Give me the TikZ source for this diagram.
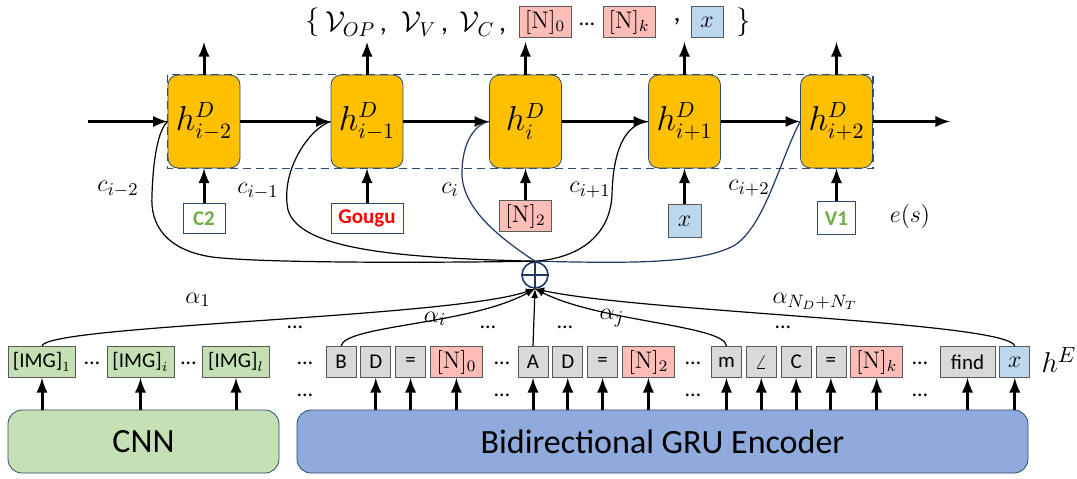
\documentclass[tikz,border=0pt]{standalone}
\usepackage[no-math]{fontspec}
\setmainfont{Carlito}
\usepackage{amsmath}
\usetikzlibrary{arrows, positioning, math}

\definecolor{decorange}{HTML}{FFC000}
\definecolor{boxline}{HTML}{2F4B6E}
\definecolor{cnngreen}{HTML}{C5E0B4}
\definecolor{encblue}{HTML}{8FAADC}
\definecolor{tokgray}{HTML}{D9D9D9}
\definecolor{numpink}{HTML}{FFBDB8}
\definecolor{varblue}{HTML}{BDD7EE}
\definecolor{opgreen}{HTML}{70AD47}
\definecolor{curveblue}{HTML}{1F3864}

\tikzset{
  dec/.style={draw=boxline, fill=decorange, rounded corners=5pt, minimum width=36pt, minimum height=46.5pt, inner sep=0pt, font=\fontsize{16}{18}\selectfont},
  tok/.style={draw=black!65, fill=tokgray, minimum width=15pt, minimum height=15.5pt, inner sep=1pt, font=\fontsize{10.5}{12}\selectfont},
  numtok/.style={tok, fill=numpink, minimum width=26pt, font=\fontsize{11.5}{13}\selectfont},
  vartok/.style={tok, fill=varblue, font=\fontsize{11.5}{13}\selectfont},
  imgtok/.style={tok, fill=cnngreen, minimum width=33.5pt},
  inbox/.style={draw=boxline, fill=white, minimum height=15pt, inner sep=2pt, font=\bfseries\fontsize{10.5}{12}\selectfont},
  block/.style={draw=boxline, rounded corners=7pt, minimum height=31.5pt, font=\fontsize{17}{20}\selectfont},
  thickarr/.style={-latex, line width=1.5pt},
  att/.style={-latex, line width=0.6pt},
  dots/.style={font=\fontsize{11}{12}\selectfont},
  lab/.style={font=\fontsize{13}{15}\selectfont},
  toplab/.style={font=\fontsize{14}{16}\selectfont},
}

\begin{document}
\begin{tikzpicture}[x=0.5pt, y=-0.5pt]
\useasboundingbox (0,0) rectangle (1077,478);

%target set:
\node[toplab] (lb) at (313,22) {$\{$};
\node[toplab] (vop) at (356,24) {$\mathcal{V}_{OP}$\,,};
\node[toplab] (vv) at (425,24) {$\mathcal{V}_{V}$\,,};
\node[toplab] (vc) at (483,24) {$\mathcal{V}_{C}$\,,};
\node[numtok] (n0top) at (545,22) {$[\mathrm{N}]_0$};
\node[dots] (dtop) at (587,24) {\dots};
\node[numtok] (nktop) at (629,22) {$[\mathrm{N}]_k$};
\node[toplab] (ctop) at (677,22) {,};
\node[vartok, minimum width=16pt] (xtop) at (707,22) {$x$};
\node[toplab] (rb) at (744,22) {$\}$};
\coordinate (top) at (0,42);

%decoder:
\node[dec] (h1) at (204,121.5) {$h^{D}_{i-2}$};
\node[dec] (h2) at (367,121.5) {$h^{D}_{i-1}$};
\node[dec] (h3) at (525.5,121.5) {$h^{D}_{i}$};
\node[dec] (h4) at (684.5,121.5) {$h^{D}_{i+1}$};
\node[dec] (h5) at (836.5,121.5) {$h^{D}_{i+2}$};
\draw[boxline, dashed, dash pattern=on 4pt off 2.5pt, line width=0.8pt] (h1.north west) rectangle (h5.south east);

\coordinate (in) at (88,121.5);
\coordinate (out) at (950,121.5);
\draw[thickarr] (in) -- (h1);
\foreach \a/\b in {h1/h2, h2/h3, h3/h4, h4/h5}
  \draw[thickarr] (\a) -- (\b);
\draw[thickarr] (h5) -- (out);
\foreach \n in {h1, h2, h3, h4, h5}
  \draw[thickarr] (\n.north) -- (\n.north |- top);

%decoder inputs:
\node[inbox, text=opgreen, minimum width=21pt, below=17.5pt of h1] (e1) {C2};
\node[inbox, text=red, minimum width=36pt, below=17.5pt of h2] (e2) {Gougu};
\node[numtok, draw=black!65, below=16pt of h3] (e3) {$[\mathrm{N}]_2$};
\node[vartok, minimum width=16.5pt, minimum height=16.5pt, below=18pt of h4] (e4) {$x$};
\node[inbox, text=opgreen, minimum width=19pt, minimum height=16.5pt, below=16.5pt of h5] (e5) {V1};
\foreach \n/\m in {e1/h1, e2/h2, e3/h3, e4/h4, e5/h5}
  \draw[thickarr] (\n) -- (\m);
\node[lab] (es) at (910,216) {$e(s)$};

%context sum:
\node[circle, draw=curveblue, line width=0.8pt, minimum size=13pt, inner sep=0pt] (op) at (535,275) {};
\draw[curveblue, line width=0.8pt] (op.north) -- (op.south) (op.west) -- (op.east);

\draw[line width=0.6pt] (op.north) .. controls (420,263) and (260,263) .. (212,257)
  .. controls (166,250) and (150,225) .. (152,195) .. controls (153,160) and (158,130) .. (h1.west);
\draw[line width=0.6pt] (op.north) .. controls (400,258) and (300,250) .. (288,210)
  .. controls (280,170) and (310,128) .. (h2.west);
\draw[curveblue, line width=0.6pt] (op.north) .. controls (495,235) and (460,205) .. (462,170)
  .. controls (463,140) and (476,124) .. (h3.west);
\draw[line width=0.6pt] (op.north) .. controls (580,258) and (610,235) .. (612,195)
  .. controls (613,150) and (625,124) .. (h4.west);
\draw[curveblue, line width=0.6pt] (op.north) .. controls (620,263) and (700,265) .. (735,245)
  .. controls (765,225) and (780,160) .. (h5.west);

\node[lab] (c1) at (118,189) {$c_{i-2}$};
\node[lab] (c2) at (258,191) {$c_{i-1}$};
\node[lab] (c3) at (450,190) {$c_{i}$};
\node[lab] (c4) at (590,190) {$c_{i+1}$};
\node[lab] (c5) at (749,188) {$c_{i+2}$};

%encoder tokens:
\node[imgtok] (img1) at (42,362) {[IMG]$_{1}$};
\node[imgtok] (imgi) at (140.5,362) {[IMG]$_{i}$};
\node[imgtok] (imgl) at (236,362) {[IMG]$_{l}$};

\node[tok] (b) at (341,362) {B};
\node[tok, right=2pt of b] (d1) {D};
\node[tok, right=2pt of d1] (q1) {=};
\node[numtok, right=2pt of q1] (n0) {$[\mathrm{N}]_0$};

\node[tok] (a) at (533,362) {A};
\node[tok, right=2pt of a] (d2) {D};
\node[tok, right=2pt of d2] (q2) {=};
\node[numtok, right=2pt of q2] (n2) {$[\mathrm{N}]_2$};

\node[tok] (m) at (726.5,362) {m};
\node[tok, right=2pt of m] (ang) {$\angle$};
\node[tok, right=2pt of ang] (c) {C};
\node[tok, right=2pt of c] (q3) {=};
\node[numtok, right=2pt of q3] (nk) {$[\mathrm{N}]_k$};

\node[tok, minimum width=27.5pt] (find) at (967.5,362) {find};
\node[vartok, right=2pt of find] (xe) {$x$};
\node[font=\fontsize{15}{17}\selectfont] (he) at (1059,360) {$h^{E}$};

\foreach \x in {92, 188.5, 305, 502, 693, 920}
  \node[dots] at (\x,363) {\dots};
\foreach \x in {305, 502, 693, 920}
  \node[dots] at (\x,395) {\dots};
\foreach \x in {295, 488, 565, 783}
  \node[dots] at (\x,327) {\dots};

%attention:
\draw[att] (img1.north) .. controls (45,325) and (450,318) .. (op.south);
\draw[att] (b.north) .. controls (345,325) and (470,325) .. (op.south);
\draw[att] (a.north) -- (op.south);
\draw[att] (m.north) .. controls (725,325) and (600,322) .. (op.south);
\draw[att] (xe.north) .. controls (1010,322) and (640,312) .. (op.south);
\node[lab] (al1) at (198,300) {$\alpha_{1}$};
\node[lab] (ali) at (435,319) {$\alpha_{i}$};
\node[lab] (alj) at (612,318) {$\alpha_{j}$};
\node[lab] (aln) at (815,301) {$\alpha_{N_D+N_T}$};

%encoders:
\node[block, fill=cnngreen, minimum width=135.5pt] (cnn) at (143.5,441.5) {CNN};
\node[block, fill=encblue, minimum width=365.5pt] (enc) at (662.5,441.5) {Bidirectional GRU Encoder};
\foreach \t in {img1, imgi, imgl}
  \draw[thickarr] (cnn.north -| \t.south) -- (\t.south);
\foreach \t in {d1, q1, n0, a, d2, q2, n2, m, ang, c, q3, nk, find, xe}
  \draw[thickarr] (enc.north -| \t.south) -- (\t.south);
\end{tikzpicture}
\end{document}
